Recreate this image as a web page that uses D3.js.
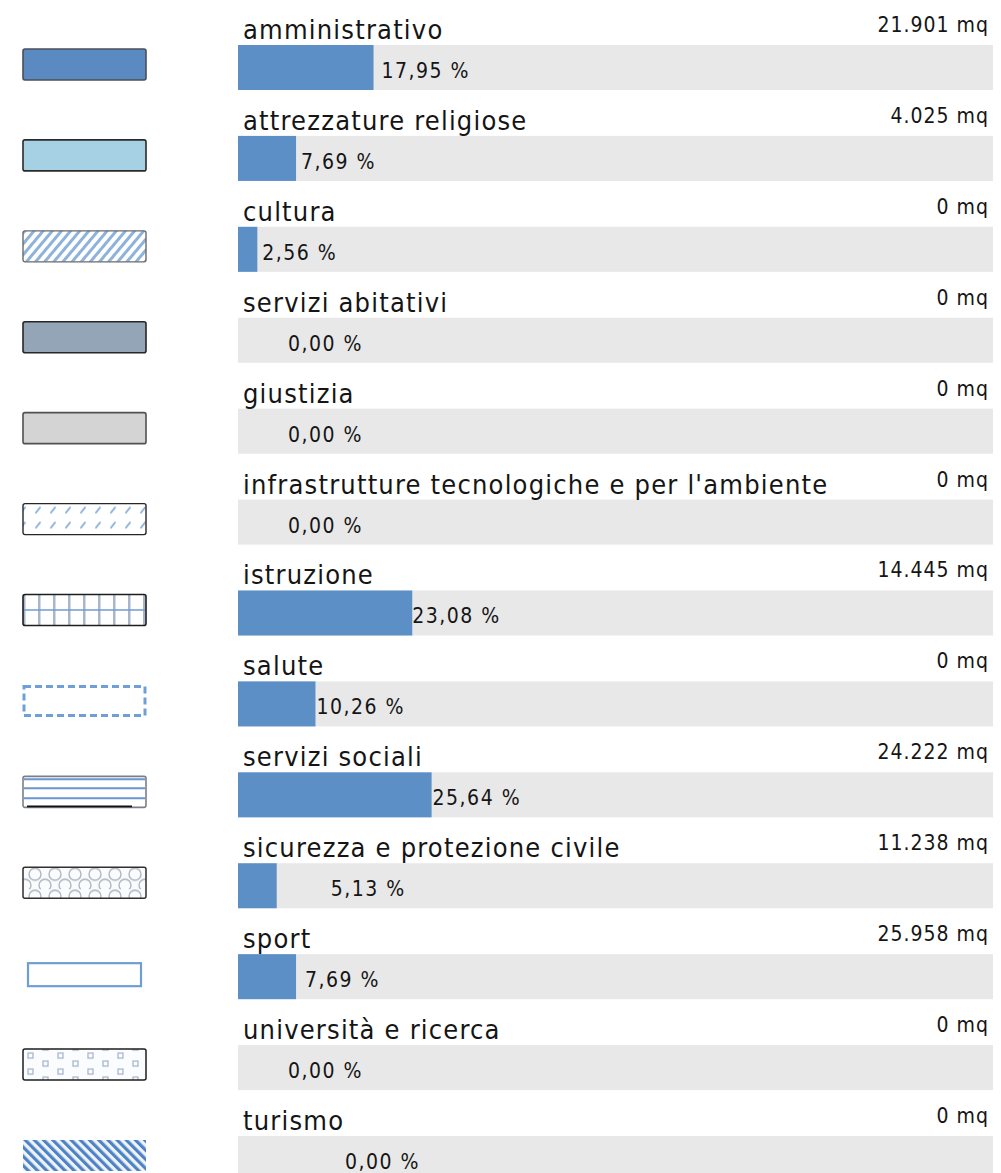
<!DOCTYPE html>
<html>
<head>
<meta charset="utf-8">
<script src="https://cdn.jsdelivr.net/npm/d3@7"></script>
<style>
  html, body { margin: 0; padding: 0; background: #fff; }
  svg { display: block; }
  text { font-family: "DejaVu Sans Condensed", "Liberation Sans Narrow", sans-serif; fill: #151515; }
</style>
</head>
<body>
<svg id="chart" width="1001" height="1173"></svg>
<script>
// Categorie dei servizi
const categories = [
  "amministrativo",
  "attrezzature religiose",
  "cultura",
  "servizi abitativi",
  "giustizia",
  "infrastrutture tecnologiche e per l'ambiente",
  "istruzione",
  "salute",
  "servizi sociali",
  "sicurezza e protezione civile",
  "sport",
  "università e ricerca",
  "turismo"
];

// Quota percentuale per categoria
const percentages = [17.95, 7.69, 2.56, 0.00, 0.00, 0.00, 23.08, 10.26, 25.64, 5.13, 7.69, 0.00, 0.00];

// Superficie in metri quadrati
const surfaces = [21901, 4025, 0, 0, 0, 0, 14445, 0, 24222, 11238, 25958, 0, 0];

// Stile del simbolo di legenda per ciascuna categoria
const swatchStyles = [
  "solidBlue", "lightBlue", "hatchUp", "slate", "grey", "dashes",
  "grid", "dashedBorder", "hLines", "circles", "outline", "squares", "hatchDown"
];

// Spostamento orizzontale dell'etichetta percentuale rispetto alla fine della barra
const pctLabelShift = [8, 5, 5, 50, 50, 50, 0, 1, 1, 54, 9, 50, 107];

const rows = categories.map((c, i) => ({
  name: c, pct: percentages[i], mq: surfaces[i], swatch: swatchStyles[i], shift: pctLabelShift[i]
}));

const it = d3.formatLocale({ decimal: ",", thousands: ".", grouping: [3], currency: ["€", ""] });
const fmtPct = it.format(".2f");
const fmtMq = it.format(",d");

const svg = d3.select("#chart");

const x = d3.scaleLinear().domain([0, 100]).range([238, 993]);
const y = d3.scaleBand().domain(categories).range([45, 1181]).paddingInner(0.505).paddingOuter(0);

// ---- pattern definitions for the legend symbols
const defs = svg.append("defs");

function hatch(id, color, width, size, angle, bg) {
  const p = defs.append("pattern").attr("id", id).attr("patternUnits", "userSpaceOnUse")
    .attr("width", size).attr("height", size).attr("patternTransform", `rotate(${angle})`);
  p.append("rect").attr("width", size).attr("height", size).attr("fill", bg);
  p.append("rect").attr("width", width).attr("height", size).attr("fill", color);
}
hatch("p-hatchUp", "#8db3dc", 3, 7, 40, "#ffffff");
hatch("p-hatchDown", "#4f82c4", 3.2, 6.5, -45, "#eef4fb");

{
  const p = defs.append("pattern").attr("id", "p-dashes").attr("patternUnits", "userSpaceOnUse")
    .attr("width", 15).attr("height", 15).attr("x", 23).attr("y", 0);
  p.append("rect").attr("width", 15).attr("height", 15).attr("fill", "#fff");
  p.append("line").attr("x1", 5).attr("y1", 9).attr("x2", 9).attr("y2", 4)
    .attr("stroke", "#8cb0da").attr("stroke-width", 2).attr("stroke-linecap", "round");
}
{
  const p = defs.append("pattern").attr("id", "p-grid").attr("patternUnits", "userSpaceOnUse")
    .attr("width", 15).attr("height", 40).attr("x", 30);
  p.append("rect").attr("width", 15).attr("height", 40).attr("fill", "#fff");
  p.append("rect").attr("x", 0).attr("width", 2.5).attr("height", 40).attr("fill", "#a7b6cb");
}
{
  const p = defs.append("pattern").attr("id", "p-circles").attr("patternUnits", "userSpaceOnUse")
    .attr("width", 20).attr("height", 22).attr("x", 22).attr("y", 0);
  p.append("rect").attr("width", 20).attr("height", 22).attr("fill", "#fafbfc");
  p.append("circle").attr("cx", 10).attr("cy", 7).attr("r", 6).attr("fill", "none")
    .attr("stroke", "#a9b2be").attr("stroke-width", 1.3);
  p.append("circle").attr("cx", 0).attr("cy", 18).attr("r", 6).attr("fill", "none")
    .attr("stroke", "#a9b2be").attr("stroke-width", 1.3);
  p.append("circle").attr("cx", 20).attr("cy", 18).attr("r", 6).attr("fill", "none")
    .attr("stroke", "#a9b2be").attr("stroke-width", 1.3);
}
{
  const p = defs.append("pattern").attr("id", "p-squares").attr("patternUnits", "userSpaceOnUse")
    .attr("width", 30).attr("height", 16).attr("x", 33).attr("y", 3);
  p.append("rect").attr("width", 30).attr("height", 16).attr("fill", "#fbfcfd");
  p.append("rect").attr("x", 2).attr("y", 1).attr("width", 5).attr("height", 5)
    .attr("fill", "none").attr("stroke", "#a8b8cc").attr("stroke-width", 1.3);
  p.append("rect").attr("x", 17).attr("y", 9).attr("width", 5).attr("height", 5)
    .attr("fill", "none").attr("stroke", "#a8b8cc").attr("stroke-width", 1.3);
}

// ---- legend symbols
const SW_X = 23, SW_W = 123, SW_H = 31;
const legend = svg.append("g").attr("class", "legend");

rows.forEach(r => {
  const top = y(r.name) + 4;
  const g = legend.append("g").attr("transform", `translate(${SW_X},${top})`);
  const box = (fill, stroke, sw) => g.append("rect").attr("width", SW_W).attr("height", SW_H)
    .attr("rx", 2).attr("fill", fill).attr("stroke", stroke).attr("stroke-width", sw);
  switch (r.swatch) {
    case "solidBlue": box("#5b89c1", "#4a4f58", 1.6); break;
    case "lightBlue": box("#a6d0e4", "#2a2a2a", 1.6); break;
    case "hatchUp": box("url(#p-hatchUp)", "#6b6b6b", 1.4); break;
    case "slate": box("#95a5b8", "#262626", 1.6); break;
    case "grey": box("#d4d4d4", "#505050", 1.6); break;
    case "dashes": box("url(#p-dashes)", "#262626", 1.4); break;
    case "grid":
      box("url(#p-grid)", "#1e1e1e", 1.6);
      g.append("line").attr("x1", 1).attr("x2", SW_W - 1).attr("y1", SW_H / 2).attr("y2", SW_H / 2)
        .attr("stroke", "#6d9ed3").attr("stroke-width", 1.6);
      break;
    case "dashedBorder":
      g.append("rect").attr("x", 1).attr("y", 1).attr("width", SW_W - 2).attr("height", SW_H - 2)
        .attr("fill", "#fff").attr("stroke", "#6f9fd8").attr("stroke-width", 3)
        .attr("stroke-dasharray", "7,4");
      break;
    case "hLines":
      box("#ffffff", "#7a7f88", 1.6);
      [3, 12, 22].forEach(yy => g.append("line").attr("x1", 1).attr("x2", SW_W - 1)
        .attr("y1", yy).attr("y2", yy).attr("stroke", "#6b95cc").attr("stroke-width", 2));
      g.append("line").attr("x1", 4).attr("x2", SW_W - 14).attr("y1", SW_H - 1).attr("y2", SW_H - 1)
        .attr("stroke", "#111").attr("stroke-width", 1.8);
      break;
    case "circles": box("url(#p-circles)", "#2f2f2f", 1.5); break;
    case "outline":
      g.append("rect").attr("x", 5).attr("y", 5).attr("width", SW_W - 10).attr("height", SW_H - 8)
        .attr("fill", "#fff").attr("stroke", "#6f9fd2").attr("stroke-width", 2.2);
      break;
    case "squares": box("url(#p-squares)", "#1e1e1e", 1.5); break;
    case "hatchDown":
      g.append("rect").attr("width", SW_W).attr("height", SW_H).attr("fill", "url(#p-hatchDown)");
      break;
  }
});

// ---- bars
const plot = svg.append("g").attr("class", "bars");

plot.selectAll("rect.track").data(rows).join("rect")
  .attr("class", "track")
  .attr("x", x(0)).attr("y", d => y(d.name))
  .attr("width", x(100) - x(0)).attr("height", y.bandwidth())
  .attr("fill", "#e8e8e8");

plot.selectAll("rect.bar").data(rows).join("rect")
  .attr("class", "bar")
  .attr("x", x(0)).attr("y", d => y(d.name))
  .attr("width", d => x(d.pct) - x(0)).attr("height", y.bandwidth())
  .attr("fill", "#5b8fc6");

// category names
plot.selectAll("text.cat").data(rows).join("text")
  .attr("class", "cat")
  .attr("x", 243).attr("y", d => y(d.name) - 6)
  .attr("font-size", 27)
  .attr("letter-spacing", 1.2)
  .text(d => d.name);

// surfaces (right aligned)
plot.selectAll("text.mq").data(rows).join("text")
  .attr("class", "mq")
  .attr("x", 989).attr("y", d => y(d.name) - 13)
  .attr("text-anchor", "end")
  .attr("font-size", 21)
  .attr("letter-spacing", 1)
  .text(d => fmtMq(d.mq) + " mq");

// percentages
plot.selectAll("text.pct").data(rows).join("text")
  .attr("class", "pct")
  .attr("x", d => x(d.pct) + d.shift).attr("y", d => y(d.name) + 33)
  .attr("font-size", 21)
  .attr("letter-spacing", 1.5)
  .text(d => fmtPct(d.pct) + " %");
</script>
</body>
</html>
